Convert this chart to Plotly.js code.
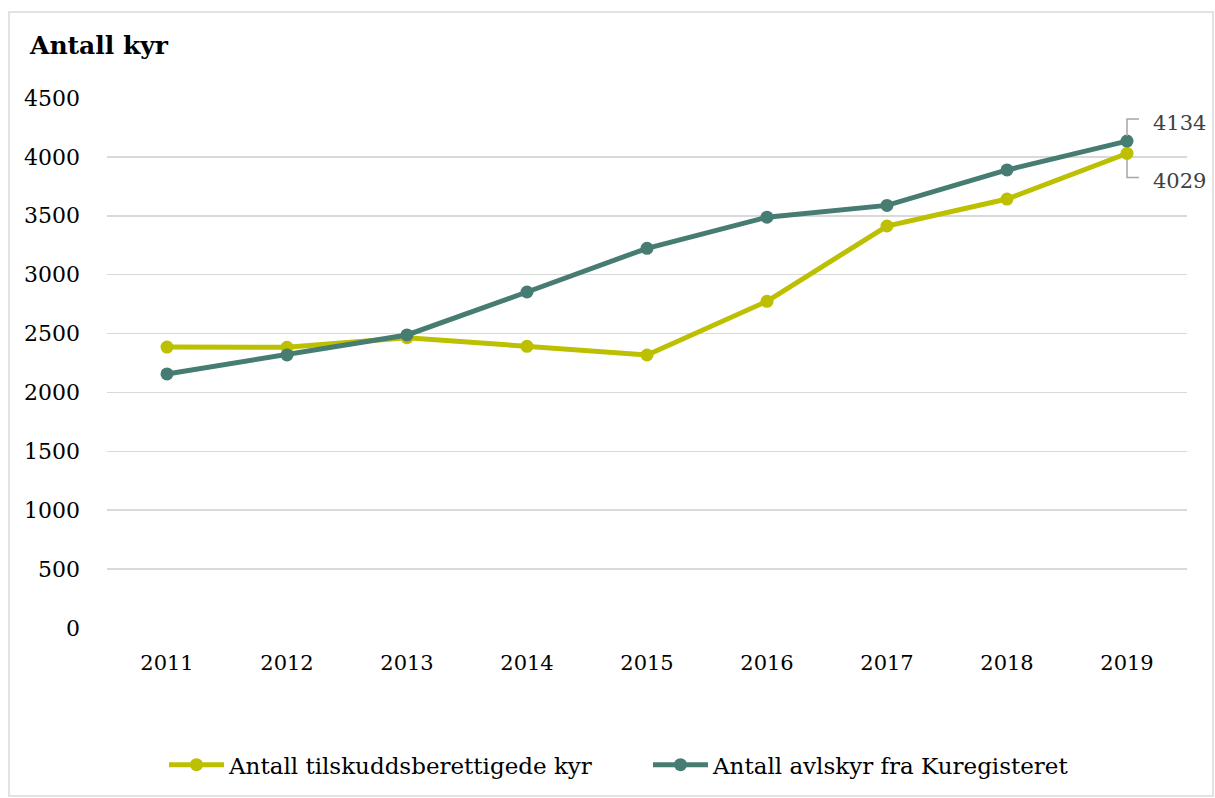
<!DOCTYPE html>
<html>
<head>
<meta charset="utf-8">
<script src="https://cdn.plot.ly/plotly-3.0.1.min.js"></script>
<style>html,body{margin:0;padding:0;background:#fff;}#chart{width:1215px;height:798px;}</style>
</head>
<body>
<div id="chart"></div>
<script>
const years = ['2011','2012','2013','2014','2015','2016','2017','2018','2019'];
const tilskudd = [2385, 2383, 2465, 2392, 2318, 2774, 3413, 3642, 4029];
const avlskyr = [2157, 2318, 2488, 2853, 3224, 3488, 3588, 3889, 4134];
const seriesNames = ['Antall tilskuddsberettigede kyr', 'Antall avlskyr fra Kuregisteret'];
const yTicks = [0, 500, 1000, 1500, 2000, 2500, 3000, 3500, 4000, 4500];

const cYellow = '#BCC000';
const cTeal = '#467C72';
const tickFont = 'DejaVu Serif, serif';

const last = years.length - 1;

const traces = [
  {x: years, y: tilskudd, name: seriesNames[0], type: 'scatter', mode: 'lines+markers',
   line: {color: cYellow, width: 5}, marker: {color: cYellow, size: 13}},
  {x: years, y: avlskyr, name: seriesNames[1], type: 'scatter', mode: 'lines+markers',
   line: {color: cTeal, width: 5}, marker: {color: cTeal, size: 13}}
];

const layout = {
  width: 1215, height: 798,
  margin: {l: 107, r: 28, t: 98, b: 170},
  paper_bgcolor: '#fff', plot_bgcolor: '#fff',
  showlegend: true,
  title: {text: '<b>Antall kyr</b>', x: 30/1215, xref: 'container', xanchor: 'left', y: 1 - 45/798, yanchor: 'middle', yref: 'container',
    font: {family: tickFont, size: 25, color: '#000'}},
  xaxis: {type: 'category', range: [-0.5, 8.5], showgrid: false, zeroline: false, showline: false,
    ticks: '', tickfont: {family: tickFont, size: 21, color: '#000'}, ticklabelstandoff: 20, fixedrange: true},
  yaxis: {range: [0, 4500], tickvals: yTicks, ticktext: yTicks.map(String), showgrid: true,
    gridcolor: '#D9D9D9', gridwidth: 1.5, zeroline: false, showline: false, ticks: '',
    tickfont: {family: tickFont, size: 22, color: '#000'}, ticklabelstandoff: 26, fixedrange: true},
  legend: {orientation: 'h', x: (648-107)/1080, xanchor: 'center', y: -0.258, yanchor: 'middle',
    font: {family: tickFont, size: 23, color: '#000'}, itemwidth: 55, tracegroupgap: 0,
    entrywidth: 414},
  shapes: [
    {type: 'rect', xref: 'paper', yref: 'paper', x0: -98/1080, x1: 1213/1080 - 107/1080, y0: -168/530, y1: 1 + 86/530,
     line: {color: '#D9D9D9', width: 1.5}, fillcolor: 'rgba(0,0,0,0)', layer: 'below'},
    {type: 'path', xref: 'x', yref: 'y', xsizemode: 'pixel', ysizemode: 'pixel',
     xanchor: last, yanchor: avlskyr[last], path: 'M0,5 L0,22 L12,22',
     line: {color: '#A6A6A6', width: 1.5}},
    {type: 'path', xref: 'x', yref: 'y', xsizemode: 'pixel', ysizemode: 'pixel',
     xanchor: last, yanchor: tilskudd[last], path: 'M0,-6 L0,-24 L12,-24',
     line: {color: '#A6A6A6', width: 1.5}}
  ],
  annotations: [
    {x: last, y: avlskyr[last], xref: 'x', yref: 'y', text: String(avlskyr[last]), showarrow: false,
     xanchor: 'left', yanchor: 'middle', xshift: 24, yshift: 18,
     font: {family: tickFont, size: 21, color: '#404040'}},
    {x: last, y: tilskudd[last], xref: 'x', yref: 'y', text: String(tilskudd[last]), showarrow: false,
     xanchor: 'left', yanchor: 'middle', xshift: 24, yshift: -28,
     font: {family: tickFont, size: 21, color: '#404040'}}
  ]
};

Plotly.newPlot('chart', traces, layout, {displayModeBar: false, staticPlot: true});
</script>
</body>
</html>
